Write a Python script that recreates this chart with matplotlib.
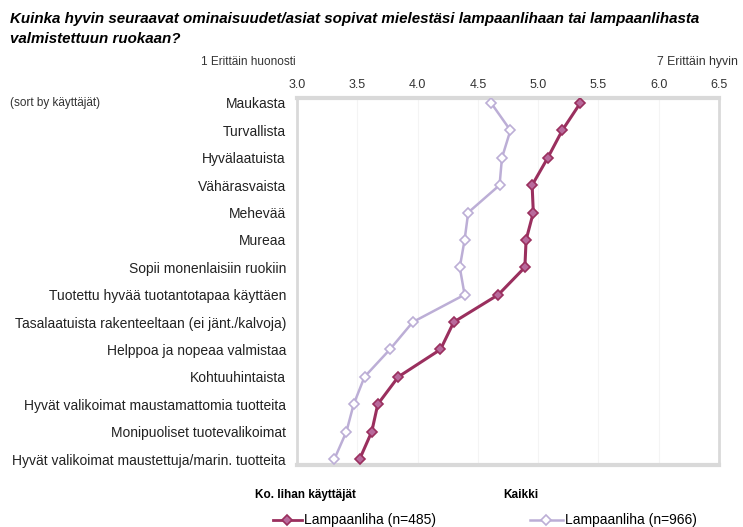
import matplotlib
matplotlib.use("Agg")
import matplotlib.pyplot as plt
from matplotlib.lines import Line2D

plt.rcParams["font.family"] = ["Liberation Sans", "DejaVu Sans"]

# Data
categories = [
    "Maukasta",
    "Turvallista",
    "Hyvälaatuista",
    "Vähärasvaista",
    "Mehevää",
    "Mureaa",
    "Sopii monenlaisiin ruokiin",
    "Tuotettu hyvää tuotantotapaa käyttäen",
    "Tasalaatuista rakenteeltaan (ei jänt./kalvoja)",
    "Helppoa ja nopeaa valmistaa",
    "Kohtuuhintaista",
    "Hyvät valikoimat maustamattomia tuotteita",
    "Monipuoliset tuotevalikoimat",
    "Hyvät valikoimat maustettuja/marin. tuotteita",
]
users = [5.35, 5.20, 5.08, 4.95, 4.96, 4.90, 4.89, 4.67, 4.30, 4.19, 3.84, 3.67, 3.62, 3.52]
everyone = [4.61, 4.77, 4.70, 4.68, 4.42, 4.39, 4.35, 4.39, 3.96, 3.77, 3.56, 3.47, 3.41, 3.31]
xticks = [3.0, 3.5, 4.0, 4.5, 5.0, 5.5, 6.0, 6.5]

dark = "#9a2f5e"
dark_fill = "#b86a9c"
light = "#bcaed6"

fig = plt.figure(figsize=(7.43, 5.27), dpi=100)
ax = fig.add_axes([297 / 743, 1 - 464.5 / 527, 422 / 743, 367 / 527])

y = list(range(len(categories)))
ax.plot(everyone, y, color=light, lw=1.8, marker="D", ms=5,
        mfc="white", mec=light, mew=1.2, zorder=3)
ax.plot(users, y, color=dark, lw=2.2, marker="D", ms=5,
        mfc=dark_fill, mec=dark, mew=1.2, zorder=4)

ax.set_xlim(3.0, 6.5)
ax.set_ylim(13.2, -0.2)
ax.xaxis.tick_top()
ax.set_xticks(xticks)
ax.set_xticklabels([f"{v:.1f}" for v in xticks], fontsize=9, color="#333333")
ax.set_yticks(y)
ax.set_yticklabels(categories, fontsize=10, color="#222222")
ax.tick_params(axis="x", length=0, pad=5)
ax.tick_params(axis="y", length=0, pad=8)
for v in xticks:
    ax.axvline(v, color="#f4f4f4", lw=0.8, zorder=0)
for s in ["top", "bottom"]:
    ax.spines[s].set_color("#d9d9d9")
    ax.spines[s].set_linewidth(3)
for s in ["left", "right"]:
    ax.spines[s].set_color("#d9d9d9")
    ax.spines[s].set_linewidth(2)

fig.text(10 / 743, 1 - 29 / 527,
         "Kuinka hyvin seuraavat ominaisuudet/asiat sopivat mielestäsi lampaanlihaan tai lampaanlihasta\nvalmistettuun ruokaan?",
         fontsize=10.9, fontweight="bold", fontstyle="italic", va="center", ha="left",
         linespacing=1.5)
fig.text(296 / 743, 1 - 62 / 527, "1 Erittäin huonosti", fontsize=8.5, ha="right", va="center", color="#333333")
fig.text(738 / 743, 1 - 62 / 527, "7 Erittäin hyvin", fontsize=8.8, ha="right", va="center", color="#333333")
fig.text(10 / 743, 1 - 103 / 527, "(sort by käyttäjät)", fontsize=8.5, ha="left", va="center", color="#333333")

# Legend
fig.text(255 / 743, 1 - 495 / 527, "Ko. lihan käyttäjät", fontsize=8.5, fontweight="bold", va="center")
fig.text(503 / 743, 1 - 495 / 527, "Kaikki", fontsize=8.5, fontweight="bold", va="center")
fig.add_artist(Line2D([273 / 743, 302 / 743], [1 - 520 / 527] * 2, color=dark, lw=2.0))
fig.add_artist(Line2D([287 / 743], [1 - 520 / 527], marker="D", ms=5, mfc=dark_fill, mec=dark, mew=1.2))
fig.text(304 / 743, 1 - 520 / 527, "Lampaanliha (n=485)", fontsize=10, va="center")
fig.add_artist(Line2D([530 / 743, 563 / 743], [1 - 520 / 527] * 2, color=light, lw=1.8))
fig.add_artist(Line2D([546 / 743], [1 - 520 / 527], marker="D", ms=5, mfc="white", mec=light, mew=1.2))
fig.text(565 / 743, 1 - 520 / 527, "Lampaanliha (n=966)", fontsize=10, va="center")

fig.savefig("out.png", dpi=100)
